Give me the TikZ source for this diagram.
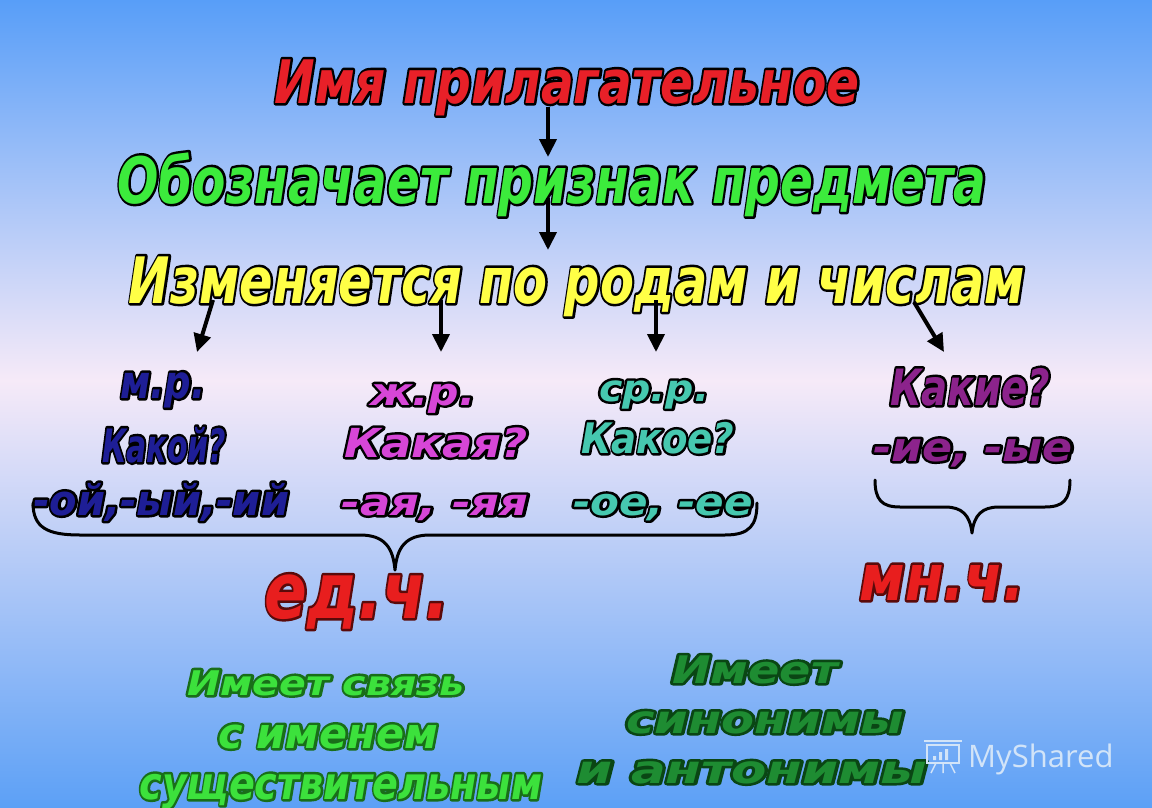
\documentclass[tikz,border=0pt]{standalone}
\usepackage{fontspec}
\usepackage{graphicx}
\usetikzlibrary{arrows.meta}
\setmainfont{DejaVu Sans}
\newfontfamily\adjfont{DejaVu Sans}
\newfontfamily\logofont{Open Sans}

\definecolor{skytop}{RGB}{88,158,248}
\definecolor{skybot}{RGB}{92,160,246}
\definecolor{blush}{RGB}{246,234,248}
\definecolor{adjred}{RGB}{232,32,40}
\definecolor{lime}{RGB}{60,235,60}
\definecolor{lemon}{RGB}{255,255,70}
\definecolor{navy}{RGB}{30,30,150}
\definecolor{orchid}{RGB}{215,70,215}
\definecolor{seagreen}{RGB}{70,200,175}
\definecolor{plum}{RGB}{140,35,140}
\definecolor{numred}{RGB}{232,30,30}
\definecolor{numedge}{RGB}{90,10,10}
\definecolor{leaf}{RGB}{60,225,60}
\definecolor{leafedge}{RGB}{25,110,25}
\definecolor{forest}{RGB}{30,140,50}
\definecolor{forestedge}{RGB}{10,70,20}
\definecolor{logo}{RGB}{210,228,248}

% width, fill colour, edge colour, text
\newcommand\outl[4]{\resizebox{#1pt}{\height}{%
  \rlap{\color{#3}\special{pdf:literal 5 w 1 j 2 Tr}#4\special{pdf:literal 0 Tr 0 j 1 w}}%
  \textcolor{#2}{#4}}}

\tikzset{
  txt/.style={inner sep=0pt, anchor=base},
  sz/.style={font=\adjfont\fontsize{#1}{#1}\selectfont\bfseries\itshape},
  arr/.style={-{Triangle[length=18pt,width=17pt]}, line width=4pt},
  brace/.style={line width=3pt, line cap=round, line join=round},
}

\begin{document}
\begin{tikzpicture}[x=1pt,y=-1pt]
    \useasboundingbox (0,0) rectangle (1152,808);
    % background
    \shade[top color=skytop, bottom color=blush] (0,0) rectangle (1152,381);
    \shade[top color=blush, bottom color=skybot] (0,380) rectangle (1152,808);

    % heading
    \node[txt, sz=60] (title) at (567,103) {\outl{585}{adjred}{black}{Имя прилагательное}};
    \node[txt, sz=64] (meaning) at (552,203) {\outl{869}{lime}{black}{Обозначает признак предмета}};
    \node[txt, sz=64] (change) at (577,303) {\outl{896}{lemon}{black}{Изменяется по родам и числам}};

    % genders
    \node[txt, sz=46] (masc) at (163,398) {\outl{85}{navy}{black}{м.р.}};
    \node[txt, sz=46] (mascQ) at (164,462) {\outl{124}{navy}{black}{Какой?}};
    \node[txt, sz=42] (mascEnd) at (161,515) {\outl{256}{navy}{black}{-ой,-ый,-ий}};
    \node[txt, sz=38] (fem) at (423,405) {\outl{105}{orchid}{black}{ж.р.}};
    \node[txt, sz=40] (femQ) at (436,457) {\outl{183}{orchid}{black}{Какая?}};
    \node[txt, sz=37] (femEnd) at (435,515) {\outl{187}{orchid}{black}{-ая, -яя}};
    \node[txt, sz=37] (neut) at (654,401) {\outl{110}{seagreen}{black}{ср.р.}};
    \node[txt, sz=42] (neutQ) at (658,453) {\outl{153}{seagreen}{black}{Какое?}};
    \node[txt, sz=38] (neutEnd) at (663,515) {\outl{180}{seagreen}{black}{-ое, -ее}};
    \node[txt, sz=50] (plQ) at (970,405) {\outl{160}{plum}{black}{Какие?}};
    \node[txt, sz=40] (plEnd) at (973,461) {\outl{200}{plum}{black}{-ие, -ые}};

    % number
    \node[txt, sz=78] (sing) at (357,618) {\outl{185}{numred}{numedge}{ед.ч.}};
    \node[txt, sz=64] (plur) at (942,600) {\outl{165}{numred}{numedge}{мн.ч.}};

    % bottom notes
    \node[txt, sz=34] (link1) at (326,695) {\outl{277}{leaf}{leafedge}{Имеет связь}};
    \node[txt, sz=42] (link2) at (328,748) {\outl{220}{leaf}{leafedge}{с именем}};
    \node[txt, sz=45] (link3) at (341,799) {\outl{403}{leaf}{leafedge}{существительным}};
    \node[txt, sz=38] (syn1) at (755,683) {\outl{166}{forest}{forestedge}{Имеет}};
    \node[txt, sz=39] (syn2) at (765,733) {\outl{278}{forest}{forestedge}{синонимы}};
    \node[txt, sz=39] (syn3) at (752,783) {\outl{350}{forest}{forestedge}{и антонимы}};

    % arrows
    \coordinate (t1) at (548,107);
    \coordinate (h1) at (548,157);
    \coordinate (t2) at (548,198);
    \coordinate (h2) at (548,250);
    \coordinate (ta) at (213,300);
    \coordinate (ha) at (197,352);
    \coordinate (tb) at (441,300);
    \coordinate (hb) at (441,352);
    \coordinate (tc) at (656,300);
    \coordinate (hc) at (656,352);
    \coordinate (td) at (914,302);
    \coordinate (hd) at (944,352);
    \path [arr] (t1) edge (h1);
    \path [arr] (t2) edge (h2);
    \path [arr] (ta) edge (ha);
    \path [arr] (tb) edge (hb);
    \path [arr] (tc) edge (hc);
    \path [arr] (td) edge (hd);

    % braces
    \draw[brace] (33,503) .. controls (33,528) and (48,535) .. (80,535) -- (360,535)
        .. controls (385,535) and (393,548) .. (395,570)
        .. controls (397,548) and (405,535) .. (430,535) -- (725,535)
        .. controls (750,535) and (757,525) .. (757,503);
    \draw[brace] (875,480) .. controls (875,500) and (882,507) .. (900,507) -- (945,507)
        .. controls (962,507) and (970,515) .. (972,533)
        .. controls (974,515) and (982,507) .. (999,507) -- (1045,507)
        .. controls (1063,507) and (1070,500) .. (1070,480);

    % watermark
    \draw[logo, line width=2pt] (924,741) -- (962,741);
    \draw[logo, line width=1.5pt] (927,745) rectangle (959,763);
    \fill[logo] (933,756) rectangle (936,760) (939,752) rectangle (942,760) (945,749) rectangle (948,760);
    \draw[logo, line width=1.5pt] (936,763) -- (931,773) (943,763) -- (943,773) (950,763) -- (955,773);
    \node[inner sep=0pt, anchor=base west, font=\logofont\fontsize{31}{31}\selectfont, text=logo] (wm) at (968,767) {MyShared};
\end{tikzpicture}
\end{document}
